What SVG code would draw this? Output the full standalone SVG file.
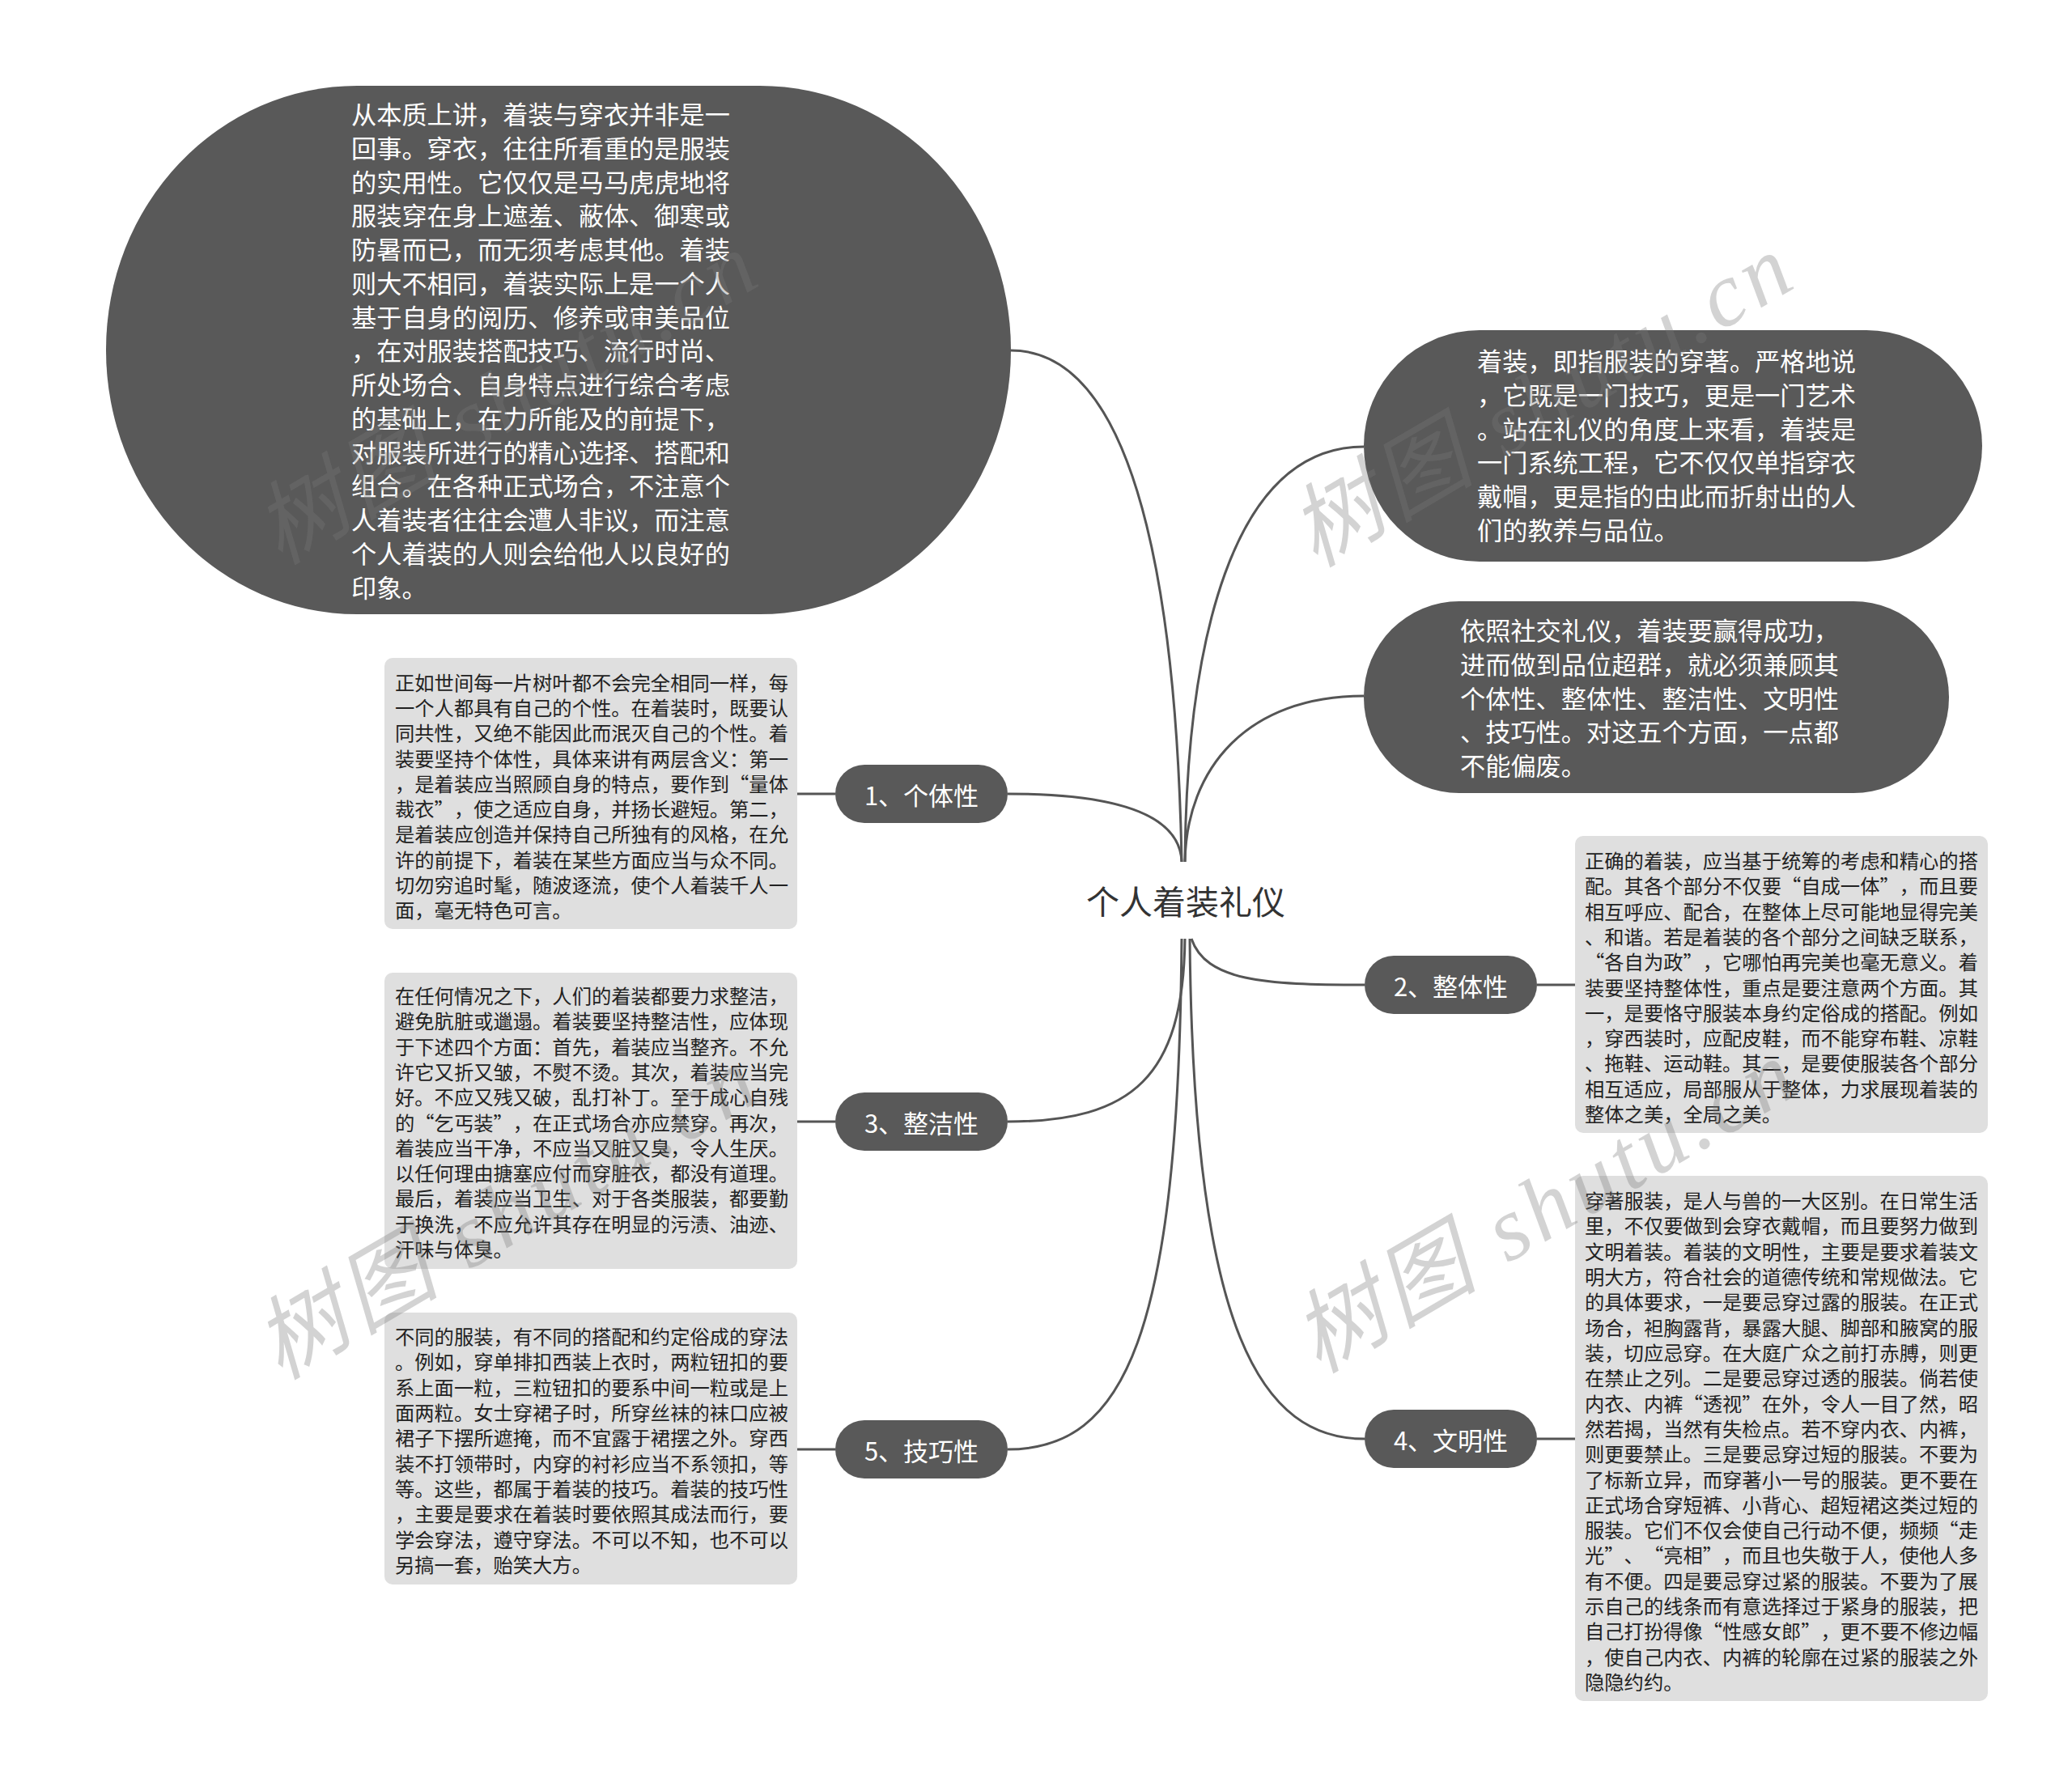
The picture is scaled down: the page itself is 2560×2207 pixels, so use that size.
<svg xmlns="http://www.w3.org/2000/svg" width="2560" height="2207" viewBox="0 0 2560 2207">
<style>
.bg{fill:#ffffff}
.dark{fill:#595959}
.box{fill:#dfdfdf}
.conn{fill:none;stroke:#555555;stroke-width:3}
text{font-family:"Noto Sans CJK SC","Noto Sans",sans-serif;dominant-baseline:central;text-spacing-trim:space-all}
.tw{fill:#ffffff;font-size:31.2px}
.tb{fill:#222222;font-size:24.3px}
.lbl{fill:#ffffff;font-size:31px;text-anchor:middle}
.center{fill:#333333;font-size:41px;text-anchor:middle}
.wm{font-family:"Liberation Serif","Noto Sans CJK SC",serif;font-size:112px;fill:#7a7a7a;fill-opacity:0.33;font-style:italic;dominant-baseline:alphabetic}
</style>
<rect class="bg" x="0" y="0" width="2560" height="2207"/>
<g id="connectors">
<path class="conn" d="M1249 433 C1420 433 1455 800 1460 1065"/>
<path class="conn" d="M1245 981 C1390 981 1458 1010 1460 1065"/>
<path class="conn" d="M1685 552 C1520 552 1466 800 1464 1065"/>
<path class="conn" d="M1685 860 C1540 860 1466 950 1464 1065"/>
<path class="conn" d="M1472 1160 C1490 1212 1560 1217 1686 1217"/>
<path class="conn" d="M1464 1160 C1462 1330 1400 1386 1245 1386"/>
<path class="conn" d="M1460 1160 C1456 1650 1390 1791 1245 1791"/>
<path class="conn" d="M1470 1160 C1474 1650 1560 1778 1686 1778"/>
<path class="conn" d="M985 981 H1032"/>
<path class="conn" d="M985 1386 H1032"/>
<path class="conn" d="M985 1791 H1032"/>
<path class="conn" d="M1899 1217 H1946"/>
<path class="conn" d="M1899 1778 H1946"/>
</g>
<g id="root">
<text class="center" x="1465" y="1112">个人着装礼仪</text>
</g>
<g id="node-essence">
<rect class="dark" x="131" y="106" width="1118" height="653" rx="310" ry="326"/>
<text class="tw">
<tspan x="434" y="139">从本质上讲，着装与穿衣并非是一</tspan>
<tspan x="434" y="180.7">回事。穿衣，往往所看重的是服装</tspan>
<tspan x="434" y="222.5">的实用性。它仅仅是马马虎虎地将</tspan>
<tspan x="434" y="264.2">服装穿在身上遮羞、蔽体、御寒或</tspan>
<tspan x="434" y="306">防暑而已，而无须考虑其他。着装</tspan>
<tspan x="434" y="347.7">则大不相同，着装实际上是一个人</tspan>
<tspan x="434" y="389.5">基于自身的阅历、修养或审美品位</tspan>
<tspan x="434" y="431.2">，在对服装搭配技巧、流行时尚、</tspan>
<tspan x="434" y="473">所处场合、自身特点进行综合考虑</tspan>
<tspan x="434" y="514.7">的基础上，在力所能及的前提下，</tspan>
<tspan x="434" y="556.5">对服装所进行的精心选择、搭配和</tspan>
<tspan x="434" y="598.2">组合。在各种正式场合，不注意个</tspan>
<tspan x="434" y="640">人着装者往往会遭人非议，而注意</tspan>
<tspan x="434" y="681.7">个人着装的人则会给他人以良好的</tspan>
<tspan x="434" y="723.5">印象。</tspan>
</text>
</g>
<g id="node-definition">
<rect class="dark" x="1685" y="408" width="764" height="286" rx="143" ry="143"/>
<text class="tw">
<tspan x="1825" y="444">着装，即指服装的穿著。严格地说</tspan>
<tspan x="1825" y="485.8">，它既是一门技巧，更是一门艺术</tspan>
<tspan x="1825" y="527.6">。站在礼仪的角度上来看，着装是</tspan>
<tspan x="1825" y="569.4">一门系统工程，它不仅仅单指穿衣</tspan>
<tspan x="1825" y="611.2">戴帽，更是指的由此而折射出的人</tspan>
<tspan x="1825" y="653">们的教养与品位。</tspan>
</text>
</g>
<g id="node-five">
<rect class="dark" x="1685" y="743" width="723" height="237" rx="118" ry="118"/>
<text class="tw">
<tspan x="1804" y="777">依照社交礼仪，着装要赢得成功，</tspan>
<tspan x="1804" y="818.8">进而做到品位超群，就必须兼顾其</tspan>
<tspan x="1804" y="860.5">个体性、整体性、整洁性、文明性</tspan>
<tspan x="1804" y="902.3">、技巧性。对这五个方面，一点都</tspan>
<tspan x="1804" y="944">不能偏废。</tspan>
</text>
</g>
<g id="node-1">
<rect class="dark" x="1032" y="945" width="213" height="72" rx="36"/>
<text class="lbl" x="1138.5" y="981">1、个体性</text>
</g>
<g id="node-1-detail">
<rect class="box" x="475" y="813" width="510" height="335" rx="10"/>
<text class="tb">
<tspan x="488" y="842">正如世间每一片树叶都不会完全相同一样，每</tspan>
<tspan x="488" y="873.2">一个人都具有自己的个性。在着装时，既要认</tspan>
<tspan x="488" y="904.4">同共性，又绝不能因此而泯灭自己的个性。着</tspan>
<tspan x="488" y="935.7">装要坚持个体性，具体来讲有两层含义：第一</tspan>
<tspan x="488" y="966.9">，是着装应当照顾自身的特点，要作到“量体</tspan>
<tspan x="488" y="998.1">裁衣”，使之适应自身，并扬长避短。第二，</tspan>
<tspan x="488" y="1029.3">是着装应创造并保持自己所独有的风格，在允</tspan>
<tspan x="488" y="1060.6">许的前提下，着装在某些方面应当与众不同。</tspan>
<tspan x="488" y="1091.8">切勿穷追时髦，随波逐流，使个人着装千人一</tspan>
<tspan x="488" y="1123">面，毫无特色可言。</tspan>
</text>
</g>
<g id="node-3">
<rect class="dark" x="1032" y="1350" width="213" height="72" rx="36"/>
<text class="lbl" x="1138.5" y="1386">3、整洁性</text>
</g>
<g id="node-3-detail">
<rect class="box" x="475" y="1202" width="510" height="366" rx="10"/>
<text class="tb">
<tspan x="488" y="1229">在任何情况之下，人们的着装都要力求整洁，</tspan>
<tspan x="488" y="1260.3">避免肮脏或邋遢。着装要坚持整洁性，应体现</tspan>
<tspan x="488" y="1291.6">于下述四个方面：首先，着装应当整齐。不允</tspan>
<tspan x="488" y="1322.9">许它又折又皱，不熨不烫。其次，着装应当完</tspan>
<tspan x="488" y="1354.2">好。不应又残又破，乱打补丁。至于成心自残</tspan>
<tspan x="488" y="1385.5">的“乞丐装”，在正式场合亦应禁穿。再次，</tspan>
<tspan x="488" y="1416.8">着装应当干净，不应当又脏又臭，令人生厌。</tspan>
<tspan x="488" y="1448.1">以任何理由搪塞应付而穿脏衣，都没有道理。</tspan>
<tspan x="488" y="1479.4">最后，着装应当卫生、对于各类服装，都要勤</tspan>
<tspan x="488" y="1510.7">于换洗，不应允许其存在明显的污渍、油迹、</tspan>
<tspan x="488" y="1542">汗味与体臭。</tspan>
</text>
</g>
<g id="node-5">
<rect class="dark" x="1032" y="1755" width="213" height="72" rx="36"/>
<text class="lbl" x="1138.5" y="1791">5、技巧性</text>
</g>
<g id="node-5-detail">
<rect class="box" x="475" y="1622" width="510" height="336" rx="10"/>
<text class="tb">
<tspan x="488" y="1650">不同的服装，有不同的搭配和约定俗成的穿法</tspan>
<tspan x="488" y="1681.3">。例如，穿单排扣西装上衣时，两粒钮扣的要</tspan>
<tspan x="488" y="1712.7">系上面一粒，三粒钮扣的要系中间一粒或是上</tspan>
<tspan x="488" y="1744">面两粒。女士穿裙子时，所穿丝袜的袜口应被</tspan>
<tspan x="488" y="1775.3">裙子下摆所遮掩，而不宜露于裙摆之外。穿西</tspan>
<tspan x="488" y="1806.7">装不打领带时，内穿的衬衫应当不系领扣，等</tspan>
<tspan x="488" y="1838">等。这些，都属于着装的技巧。着装的技巧性</tspan>
<tspan x="488" y="1869.3">，主要是要求在着装时要依照其成法而行，要</tspan>
<tspan x="488" y="1900.7">学会穿法，遵守穿法。不可以不知，也不可以</tspan>
<tspan x="488" y="1932">另搞一套，贻笑大方。</tspan>
</text>
</g>
<g id="node-2">
<rect class="dark" x="1686" y="1181" width="213" height="72" rx="36"/>
<text class="lbl" x="1792.5" y="1217">2、整体性</text>
</g>
<g id="node-2-detail">
<rect class="box" x="1946" y="1033" width="510" height="367" rx="10"/>
<text class="tb">
<tspan x="1958" y="1062">正确的着装，应当基于统筹的考虑和精心的搭</tspan>
<tspan x="1958" y="1093.3">配。其各个部分不仅要“自成一体”，而且要</tspan>
<tspan x="1958" y="1124.6">相互呼应、配合，在整体上尽可能地显得完美</tspan>
<tspan x="1958" y="1155.9">、和谐。若是着装的各个部分之间缺乏联系，</tspan>
<tspan x="1958" y="1187.2">“各自为政”，它哪怕再完美也毫无意义。着</tspan>
<tspan x="1958" y="1218.5">装要坚持整体性，重点是要注意两个方面。其</tspan>
<tspan x="1958" y="1249.8">一，是要恪守服装本身约定俗成的搭配。例如</tspan>
<tspan x="1958" y="1281.1">，穿西装时，应配皮鞋，而不能穿布鞋、凉鞋</tspan>
<tspan x="1958" y="1312.4">、拖鞋、运动鞋。其二，是要使服装各个部分</tspan>
<tspan x="1958" y="1343.7">相互适应，局部服从于整体，力求展现着装的</tspan>
<tspan x="1958" y="1375">整体之美，全局之美。</tspan>
</text>
</g>
<g id="node-4">
<rect class="dark" x="1686" y="1742" width="213" height="72" rx="36"/>
<text class="lbl" x="1792.5" y="1778">4、文明性</text>
</g>
<g id="node-4-detail">
<rect class="box" x="1946" y="1453" width="510" height="649" rx="10"/>
<text class="tb">
<tspan x="1958" y="1482">穿著服装，是人与兽的一大区别。在日常生活</tspan>
<tspan x="1958" y="1513.3">里，不仅要做到会穿衣戴帽，而且要努力做到</tspan>
<tspan x="1958" y="1544.6">文明着装。着装的文明性，主要是要求着装文</tspan>
<tspan x="1958" y="1575.9">明大方，符合社会的道德传统和常规做法。它</tspan>
<tspan x="1958" y="1607.2">的具体要求，一是要忌穿过露的服装。在正式</tspan>
<tspan x="1958" y="1638.6">场合，袒胸露背，暴露大腿、脚部和腋窝的服</tspan>
<tspan x="1958" y="1669.9">装，切应忌穿。在大庭广众之前打赤膊，则更</tspan>
<tspan x="1958" y="1701.2">在禁止之列。二是要忌穿过透的服装。倘若使</tspan>
<tspan x="1958" y="1732.5">内衣、内裤“透视”在外，令人一目了然，昭</tspan>
<tspan x="1958" y="1763.8">然若揭，当然有失检点。若不穿内衣、内裤，</tspan>
<tspan x="1958" y="1795.2">则更要禁止。三是要忌穿过短的服装。不要为</tspan>
<tspan x="1958" y="1826.5">了标新立异，而穿著小一号的服装。更不要在</tspan>
<tspan x="1958" y="1857.8">正式场合穿短裤、小背心、超短裙这类过短的</tspan>
<tspan x="1958" y="1889.1">服装。它们不仅会使自己行动不便，频频“走</tspan>
<tspan x="1958" y="1920.4">光”、“亮相”，而且也失敬于人，使他人多</tspan>
<tspan x="1958" y="1951.7">有不便。四是要忌穿过紧的服装。不要为了展</tspan>
<tspan x="1958" y="1983">示自己的线条而有意选择过于紧身的服装，把</tspan>
<tspan x="1958" y="2014.4">自己打扮得像“性感女郎”，更不要不修边幅</tspan>
<tspan x="1958" y="2045.7">，使自己内衣、内裤的轮廓在过紧的服装之外</tspan>
<tspan x="1958" y="2077">隐隐约约。</tspan>
</text>
</g>
<g id="watermarks">
<text class="wm" transform="translate(346 699) rotate(-30.3)" textLength="690" lengthAdjust="spacing">树图 shutu.cn</text>
<text class="wm" transform="translate(1625 702) rotate(-30.3)" textLength="690" lengthAdjust="spacing">树图 shutu.cn</text>
<text class="wm" transform="translate(346 1706) rotate(-30.3)" textLength="690" lengthAdjust="spacing">树图 shutu.cn</text>
<text class="wm" transform="translate(1629 1698) rotate(-30.3)" textLength="690" lengthAdjust="spacing">树图 shutu.cn</text>
</g>
</svg>
